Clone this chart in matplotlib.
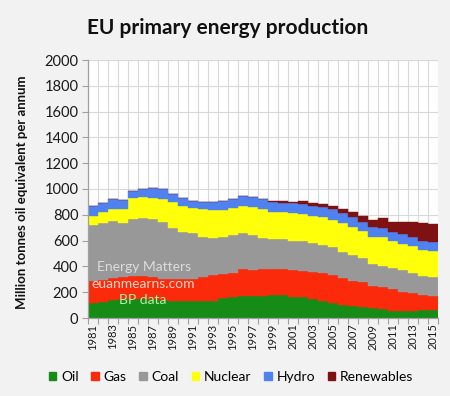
import numpy as np
import matplotlib
matplotlib.use("Agg")
import matplotlib.pyplot as plt
from matplotlib.patches import Patch

years = list(range(1981, 2016))
oil = [120, 127, 137, 145, 150, 150, 148, 142, 132, 130, 130, 130, 132, 158, 165, 168, 170, 170,
       178, 175, 165, 160, 147, 134, 114, 101, 93, 83, 75, 67, 57, 57, 57, 59, 62]
gas = [170, 168, 175, 173, 175, 175, 172, 163, 168, 170, 175, 185, 198, 183, 185, 209, 202, 207,
       199, 205, 207, 207, 207, 212, 219, 206, 194, 193, 175, 176, 165, 147, 139, 119, 108]
coal = [430, 444, 440, 417, 445, 452, 447, 439, 400, 370, 355, 315, 292, 289, 290, 279, 268, 241,
        233, 230, 227, 229, 225, 220, 215, 207, 201, 186, 168, 160, 168, 168, 150, 147, 145]
nuclear = [68, 82, 90, 108, 157, 158, 163, 176, 201, 198, 195, 212, 215, 207, 210, 212, 223, 224,
           214, 210, 212, 210, 211, 214, 211, 220, 215, 215, 212, 227, 207, 199, 212, 202, 204]
hydro = [82, 72, 78, 75, 60, 65, 75, 80, 60, 59, 54, 59, 64, 67, 72, 77, 72, 78,
         75, 74, 77, 77, 80, 82, 86, 82, 82, 69, 73, 70, 72, 77, 72, 70, 73]
renewables = [0, 0, 0, 0, 0, 0, 0, 0, 0, 0, 0, 0, 0, 0, 3, 3, 3, 4,
              10, 15, 13, 21, 24, 21, 25, 29, 39, 44, 56, 77, 77, 98, 116, 137, 136]

series_names = ["Oil", "Gas", "Coal", "Nuclear", "Hydro", "Renewables"]
series_colors = ["#168c16", "#fa2a0a", "#989898", "#ffff0a", "#4f82ee", "#7e1212"]
yticks = list(range(0, 2001, 200))
title = "EU primary energy production"
ylabel = "Million tonnes oil equivalent per annum"

FONT = "Lato"
plt.rcParams["font.family"] = [FONT, "DejaVu Sans"]

fig = plt.figure(figsize=(4.5, 3.96), dpi=100)
fig.patch.set_facecolor("#f2f2f2")
ax = fig.add_axes([88/450, 1-318/396, 350/450, 258/396])
ax.set_facecolor("white")

x = np.arange(len(years))
bottom = np.zeros(len(years))
for name, vals, col in zip(series_names, [oil, gas, coal, nuclear, hydro, renewables], series_colors):
    v = np.array(vals, dtype=float)
    ax.bar(x, v, bottom=bottom, width=1.0, color=col, edgecolor=col, linewidth=0.3, label=name, zorder=2)
    bottom += v

ax.set_xlim(-0.5, len(years) - 0.5)
ax.set_ylim(0, 2000)
ax.set_yticks(yticks)
ax.set_yticklabels([str(t) for t in yticks], fontsize=10.5, color="#1a1a1a")

# category boundaries: gridlines and tick marks
ax.set_xticks(np.arange(-0.5, len(years)), minor=False)
ax.set_xticklabels([])
ax.set_xticks(x[::2], minor=True)
ax.set_xticklabels([str(y) for y in years[::2]], minor=True, rotation=90, fontsize=8, color="#1a1a1a")
ax.tick_params(axis="x", which="major", length=4, color="#a0a0a0", direction="out")
ax.tick_params(axis="x", which="minor", length=0, pad=4)
ax.tick_params(axis="y", length=4, color="#a0a0a0", direction="out", pad=3)

ax.grid(True, which="major", axis="both", color="#d9d9d9", linewidth=0.8, zorder=0)
ax.set_axisbelow(True)
for s in ["top", "right"]:
    ax.spines[s].set_visible(False)
for s in ["left", "bottom"]:
    ax.spines[s].set_color("#a0a0a0")
    ax.spines[s].set_linewidth(0.9)
    ax.spines[s].set_zorder(3)

fig.text(228/450, 1-28/396, title, ha="center", va="center", fontsize=15, fontweight="bold", color="#111111")
fig.text(22/450, 1-192/396, ylabel, ha="center", va="center", rotation=90, fontsize=9.5, fontweight="bold", color="#111111")

# watermark texts
fig.text(144/450, 1-267/396, "Energy Matters", ha="center", va="center", fontsize=10, color="#dcdcdc", zorder=5)
fig.text(143/450, 1-284/396, "euanmearns.com", ha="center", va="center", fontsize=10, color="#ffd6c8", zorder=5)
fig.text(143/450, 1-300/396, "BP data", ha="center", va="center", fontsize=10, color="#b4f0a8", zorder=5)

handles = [Patch(facecolor=c, edgecolor=c, label=n) for n, c in zip(series_names, series_colors)]
fig.legend(handles=handles, loc="center", bbox_to_anchor=(231/450, 1-377/396), ncol=6, frameon=False,
           fontsize=10, handlelength=0.55, handleheight=0.55, handletextpad=0.35, columnspacing=0.9)

fig.savefig("out.png", dpi=100, facecolor=fig.get_facecolor())
